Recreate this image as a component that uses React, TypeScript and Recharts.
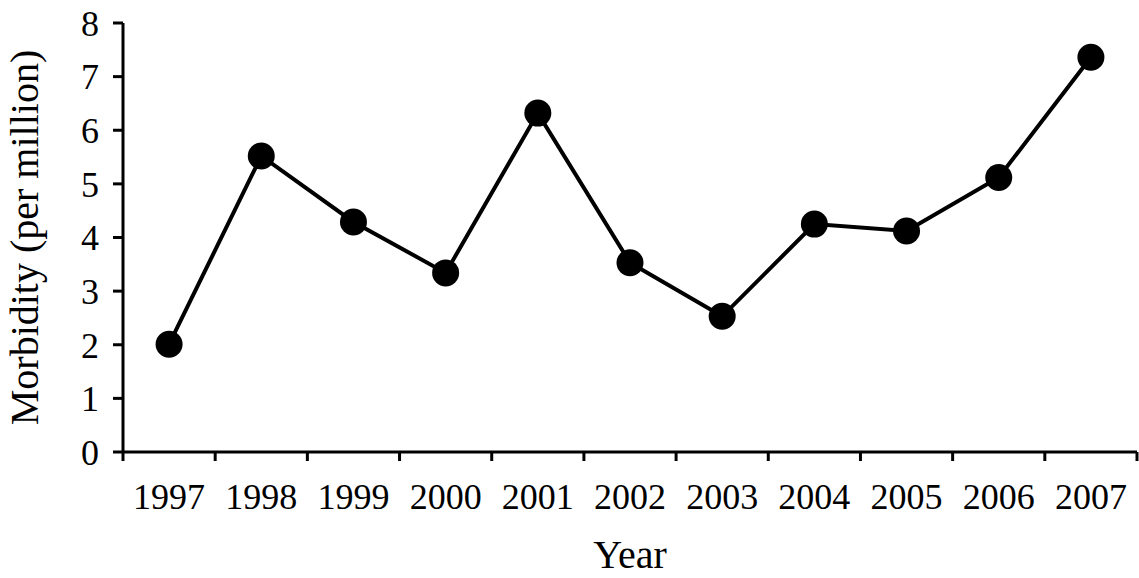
import { LineChart, Line, XAxis, YAxis, Label } from 'recharts'

// data
const years = [1997, 1998, 1999, 2000, 2001, 2002, 2003, 2004, 2005, 2006, 2007]
const morbidity = [2.01, 5.52, 4.29, 3.34, 6.32, 3.53, 2.53, 4.25, 4.12, 5.12, 7.36]
const yTicks = [0, 1, 2, 3, 4, 5, 6, 7, 8]

const FONT = '"Liberation Serif", "Times New Roman", serif'

const data = years.map((year, i) => ({ year, value: morbidity[i] }))

// ticks sit between the years, labels sit on the years
const xTicks: number[] = [years[0] - 0.5]
for (const y of years) xTicks.push(y, y + 0.5)

function YearTick(props: any) {
  const { x, y, payload } = props
  const v = Number(payload.value)
  if (v % 1 !== 0) {
    return <line x1={x} x2={x} y1={y - 9} y2={y} stroke="#000" strokeWidth={3} />
  }
  return (
    <text x={x} y={y} dy={48} textAnchor="middle" fontSize={36} fontFamily={FONT} fill="#000">
      {v}
    </text>
  )
}

export default function App() {
  return (
    <div style={{ position: 'absolute', left: 0, top: 0, background: '#fff' }}>
      <LineChart
        width={1139}
        height={578}
        data={data}
        margin={{ top: 23, right: 2, left: 0, bottom: 0 }}
      >
        <XAxis
          dataKey="year"
          type="number"
          domain={[years[0] - 0.5, years[years.length - 1] + 0.5]}
          ticks={xTicks}
          interval={0}
          tick={<YearTick />}
          tickLine={false}
          tickSize={9}
          tickMargin={0}
          height={126}
          axisLine={{ stroke: '#000', strokeWidth: 3 }}
        >
          <Label
            value="Year"
            position="insideBottom"
            offset={10}
            style={{ fontSize: 40, fontFamily: FONT, fill: '#000' }}
          />
        </XAxis>
        <YAxis
          domain={[0, 8]}
          ticks={yTicks}
          interval={0}
          width={123}
          tickSize={10}
          tickMargin={14}
          tick={{ fontSize: 36, fontFamily: FONT, fill: '#000' }}
          tickLine={{ stroke: '#000', strokeWidth: 3 }}
          axisLine={{ stroke: '#000', strokeWidth: 3 }}
        >
          <Label
            value="Morbidity (per million)"
            angle={-90}
            position="insideLeft"
            offset={24}
            style={{ fontSize: 40, fontFamily: FONT, fill: '#000', textAnchor: 'middle' }}
          />
        </YAxis>
        <Line
          type="linear"
          dataKey="value"
          stroke="#000"
          strokeWidth={4}
          dot={{ r: 13.5, fill: '#000', stroke: 'none' }}
          activeDot={false}
          isAnimationActive={false}
        />
      </LineChart>
    </div>
  )
}
